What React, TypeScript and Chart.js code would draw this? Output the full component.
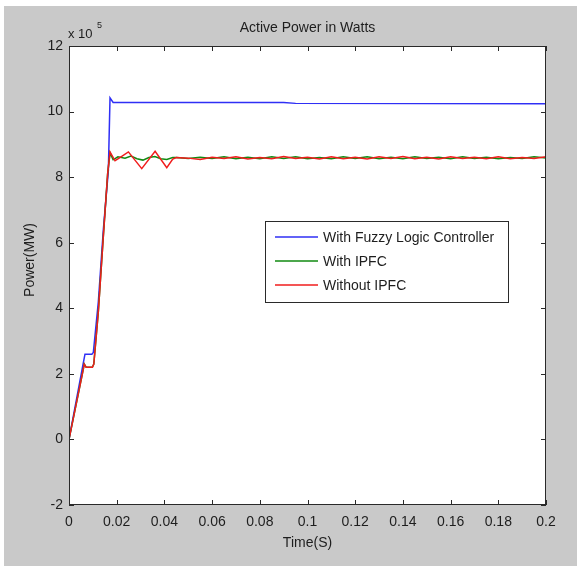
import { useEffect, useRef } from "react";
import { Chart, registerables } from "chart.js";

Chart.register(...registerables);

const chartTitle = "Active Power in Watts";
const xAxisTitle = "Time(S)";
const yAxisTitle = "Power(MW)";
const exponentBase = "x 10";
const exponentPower = "5";

const xTickValues = [0, 0.02, 0.04, 0.06, 0.08, 0.1, 0.12, 0.14, 0.16, 0.18, 0.2];
const xTickLabels = ["0", "0.02", "0.04", "0.06", "0.08", "0.1", "0.12", "0.14", "0.16", "0.18", "0.2"];
const yTickValues = [-2, 0, 2, 4, 6, 8, 10, 12];
const yTickLabels = ["-2", "0", "2", "4", "6", "8", "10", "12"];

const seriesLabels = ["With Fuzzy Logic Controller", "With IPFC", "Without IPFC"];
const seriesColors = ["#2f2ff5", "#118a11", "#f01c1c"];

// Time (s) and power (x10^5) for each series
const timeFuzzy = [0, 0.0059, 0.0067, 0.0096, 0.0102, 0.0123, 0.0144, 0.0165, 0.0172, 0.0185, 0.05, 0.09, 0.095, 0.2];
const powerFuzzy = [0, 2.3, 2.6, 2.6, 2.65, 4.2, 6.4, 8.2, 10.42, 10.28, 10.28, 10.28, 10.25, 10.24];

const timeWithIpfc = [0, 0.0056, 0.0064, 0.0072, 0.0098, 0.0104, 0.0123, 0.0144, 0.0162, 0.0172, 0.0185, 0.0205, 0.0235, 0.026, 0.0285, 0.031, 0.0335, 0.036, 0.0385, 0.041, 0.0435,
  0.045, 0.05, 0.055, 0.06, 0.065, 0.07, 0.075, 0.08, 0.085, 0.09, 0.095, 0.1, 0.105, 0.11, 0.115, 0.12, 0.125, 0.13, 0.135, 0.14, 0.145, 0.15, 0.155, 0.16, 0.165, 0.17, 0.175, 0.18, 0.185, 0.19, 0.195, 0.2];
const powerWithIpfc = [0, 2.0, 2.3, 2.2, 2.2, 2.3, 3.9, 6.2, 8.1, 8.74, 8.53, 8.62, 8.58, 8.64, 8.56, 8.52, 8.6, 8.63, 8.56, 8.54, 8.6,
  8.6, 8.57, 8.61, 8.57, 8.62, 8.56, 8.61, 8.56, 8.62, 8.57, 8.62, 8.56, 8.6, 8.56, 8.62, 8.57, 8.62, 8.56, 8.61, 8.56, 8.62, 8.57, 8.61, 8.56, 8.62, 8.57, 8.61, 8.56, 8.6, 8.57, 8.62, 8.58];

const timeWithoutIpfc = [0, 0.0056, 0.0064, 0.0072, 0.0098, 0.0104, 0.0123, 0.0144, 0.0162, 0.0172, 0.0193, 0.021, 0.0249, 0.0305, 0.0361, 0.041, 0.0435,
  0.045, 0.05, 0.055, 0.06, 0.065, 0.07, 0.075, 0.08, 0.085, 0.09, 0.095, 0.1, 0.105, 0.11, 0.115, 0.12, 0.125, 0.13, 0.135, 0.14, 0.145, 0.15, 0.155, 0.16, 0.165, 0.17, 0.175, 0.18, 0.185, 0.19, 0.195, 0.2];
const powerWithoutIpfc = [0, 2.0, 2.3, 2.2, 2.2, 2.3, 3.9, 6.2, 8.1, 8.77, 8.5, 8.58, 8.77, 8.26, 8.79, 8.29, 8.55,
  8.6, 8.58, 8.54, 8.61, 8.57, 8.62, 8.55, 8.6, 8.56, 8.63, 8.57, 8.61, 8.55, 8.62, 8.56, 8.61, 8.55, 8.62, 8.57, 8.63, 8.56, 8.61, 8.55, 8.62, 8.57, 8.61, 8.56, 8.62, 8.56, 8.6, 8.57, 8.62];

const W = 577;
const H = 566;
const FONT = "'Liberation Sans', Arial, Helvetica, sans-serif";
const TEXT = "#1e1e1e";

function toPoints(t: number[], v: number[]) {
  return t.map((x, i) => ({ x, y: v[i] }));
}

const framePlugin = {
  id: "matlabFrame",
  beforeDraw(chart: any) {
    const { ctx, chartArea } = chart;
    ctx.save();
    ctx.fillStyle = "#ffffff";
    ctx.fillRect(0, 0, W, H);
    ctx.fillStyle = "#c9c9c9";
    ctx.fillRect(4, 6, W - 4, H - 6);
    ctx.fillStyle = "#ffffff";
    ctx.fillRect(chartArea.left, chartArea.top, chartArea.right - chartArea.left, chartArea.bottom - chartArea.top);
    ctx.restore();
  },
  afterDraw(chart: any) {
    const { ctx, chartArea } = chart;
    const xs = chart.scales.x;
    const ys = chart.scales.y;
    const L = chartArea.left, R = chartArea.right, T = chartArea.top, B = chartArea.bottom;
    ctx.save();
    ctx.strokeStyle = "#2a2a2a";
    ctx.lineWidth = 1;
    ctx.strokeRect(Math.round(L) + 0.5, Math.round(T) + 0.5, Math.round(R - L) - 1, Math.round(B - T) - 1);
    const tl = 5;
    ctx.beginPath();
    xTickValues.forEach((v) => {
      const px = Math.round(xs.getPixelForValue(v)) + 0.5;
      ctx.moveTo(px, B);
      ctx.lineTo(px, B - tl);
      ctx.moveTo(px, T);
      ctx.lineTo(px, T + tl);
    });
    yTickValues.forEach((v) => {
      const py = Math.round(ys.getPixelForValue(v)) + 0.5;
      ctx.moveTo(L, py);
      ctx.lineTo(L + tl, py);
      ctx.moveTo(R, py);
      ctx.lineTo(R - tl, py);
    });
    ctx.stroke();

    ctx.fillStyle = TEXT;
    ctx.textAlign = "center";
    ctx.textBaseline = "middle";
    ctx.font = `14px ${FONT}`;
    const cx = (L + R) / 2;
    ctx.fillText(chartTitle, cx, 28);
    ctx.fillText(xAxisTitle, cx, 543);
    ctx.save();
    ctx.translate(30, 260);
    ctx.rotate(-Math.PI / 2);
    ctx.fillText(yAxisTitle, 0, 0);
    ctx.restore();

    ctx.textAlign = "left";
    ctx.font = `13px ${FONT}`;
    ctx.fillText(exponentBase, 68, 34);
    ctx.font = `9px ${FONT}`;
    ctx.fillText(exponentPower, 97, 26);

    // legend
    const bx = 265, by = 221, bw = 243, bh = 81;
    ctx.fillStyle = "#ffffff";
    ctx.fillRect(bx, by, bw, bh);
    ctx.strokeStyle = "#2a2a2a";
    ctx.strokeRect(bx + 0.5, by + 0.5, bw, bh);
    const rows = [237, 261, 285];
    ctx.font = `14px ${FONT}`;
    seriesLabels.forEach((label, i) => {
      ctx.strokeStyle = seriesColors[i];
      ctx.lineWidth = 1.5;
      ctx.beginPath();
      ctx.moveTo(275, rows[i]);
      ctx.lineTo(318, rows[i]);
      ctx.stroke();
      ctx.fillStyle = TEXT;
      ctx.fillText(label, 323, rows[i] + 1);
    });
    ctx.restore();
  },
};

export default function App() {
  const ref = useRef<HTMLCanvasElement | null>(null);
  useEffect(() => {
    if (!ref.current) return;
    const datasets = [
      { label: seriesLabels[0], data: toPoints(timeFuzzy, powerFuzzy), borderColor: seriesColors[0], order: 2 },
      { label: seriesLabels[1], data: toPoints(timeWithIpfc, powerWithIpfc), borderColor: seriesColors[1], order: 1 },
      { label: seriesLabels[2], data: toPoints(timeWithoutIpfc, powerWithoutIpfc), borderColor: seriesColors[2], order: 0 },
    ].map((d) => ({ ...d, borderWidth: 1.5, pointRadius: 0, tension: 0, fill: false }));

    const chart = new Chart(ref.current, {
      type: "line",
      data: { datasets },
      plugins: [framePlugin],
      options: {
        animation: false,
        responsive: false,
        devicePixelRatio: 1,
        layout: { padding: { left: 0, top: 46, right: 31, bottom: 0 } },
        plugins: { legend: { display: false }, title: { display: false }, tooltip: { enabled: false } },
        scales: {
          x: {
            type: "linear",
            min: 0,
            max: 0.2,
            grid: { display: false, drawTicks: false },
            border: { display: false },
            afterBuildTicks: (s: any) => { s.ticks = xTickValues.map((v) => ({ value: v })); },
            afterFit: (s: any) => { s.height = 61; },
            ticks: {
              autoSkip: false,
              maxRotation: 0,
              padding: 9,
              color: TEXT,
              font: { family: FONT, size: 14 },
              callback: (v: any) => { const i = xTickValues.findIndex((t) => Math.abs(t - v) < 1e-9); return i >= 0 ? xTickLabels[i] : ""; },
            },
          },
          y: {
            type: "linear",
            min: -2,
            max: 12,
            grid: { display: false, drawTicks: false },
            border: { display: false },
            afterBuildTicks: (s: any) => { s.ticks = yTickValues.map((v) => ({ value: v })); },
            afterFit: (s: any) => { s.width = 69; },
            ticks: {
              autoSkip: false,
              padding: 6,
              color: TEXT,
              font: { family: FONT, size: 14 },
              callback: (v: any) => { const i = yTickValues.findIndex((t) => Math.abs(t - v) < 1e-9); return i >= 0 ? yTickLabels[i] : ""; },
            },
          },
        },
      },
    } as any);
    return () => chart.destroy();
  }, []);
  return (
    <div style={{ position: "absolute", left: 0, top: 0, width: W, height: H }}>
      <canvas ref={ref} width={W} height={H} style={{ display: "block", width: W, height: H }} />
    </div>
  );
}
